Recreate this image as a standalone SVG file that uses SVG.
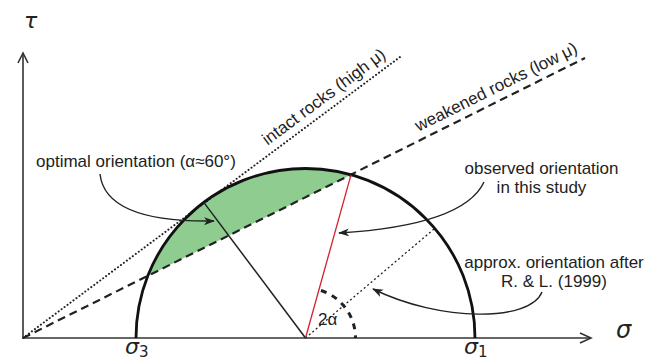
<svg xmlns="http://www.w3.org/2000/svg" width="656" height="361" viewBox="0 0 656 361">
<style>
.lbl{font-family:"Liberation Sans",Arial,sans-serif;font-size:17px;fill:#222}
.sym{font-family:"DejaVu Sans","Noto Sans",sans-serif;font-style:italic;fill:#222}
.ax{stroke:#333;stroke-width:1.6;fill:none}
.ann{stroke:#222;stroke-width:1.4;fill:none;marker-end:url(#ah)}
</style>
<defs>
<marker id="ah" markerWidth="12" markerHeight="10" refX="10" refY="4" orient="auto" markerUnits="userSpaceOnUse">
<path d="M0,0 L11,4 L0,8 L3,4 Z" fill="#222"/>
</marker>
</defs>
<rect width="656" height="361" fill="#fff"/>

<g id="axes">
<line class="ax" x1="23" y1="338" x2="591" y2="338"/>
<polyline class="ax" points="580,333 591,338 580,343"/>
<line class="ax" x1="23" y1="338" x2="23" y2="53"/>
<polyline class="ax" points="18,63 23,53 28,63"/>
<text class="sym" x="24" y="28" font-size="22">τ</text>
<text class="sym" x="616" y="338" font-size="24">σ</text>
</g>

<g id="region">
<path d="M147.8,275.9 A169.5,169.5 0 0 1 351,174.8 Z" fill="#8fcc8f"/>
</g>

<g id="envelopes">
<line x1="23" y1="338" x2="400" y2="57" stroke="#222" stroke-width="2" stroke-linecap="round" stroke-dasharray="0.1 3.6"/>
<line x1="23" y1="338" x2="585" y2="58" stroke="#222" stroke-width="2.2" stroke-dasharray="8 5"/>
<g transform="translate(23,338) rotate(-36.7)">
<text class="lbl" x="311" y="-8">intact rocks (high μ)</text>
</g>
<g transform="translate(23,338) rotate(-26.5)">
<text class="lbl" x="446" y="-8">weakened rocks (low μ)</text>
</g>
</g>

<g id="circle">
<path d="M136,338 A169.5,169.5 0 0 1 475,338" fill="none" stroke="#111" stroke-width="2.8"/>
<text class="sym" x="125" y="354" font-size="22">σ<tspan font-size="15" font-style="normal" dy="3">3</tspan></text>
<text class="sym" x="464" y="354" font-size="22">σ<tspan font-size="15" font-style="normal" dy="3">1</tspan></text>
</g>

<g id="orientations">
<line x1="305.5" y1="338" x2="203.8" y2="202.4" stroke="#222" stroke-width="1.5"/>
<line x1="305.5" y1="338" x2="351" y2="174.8" stroke="#d4202c" stroke-width="1.3"/>
<line x1="305.5" y1="338" x2="434.8" y2="228.4" stroke="#222" stroke-width="1.3" stroke-dasharray="2 2.5"/>
<path d="M320.95,290.45 A50,50 0 0 1 355.5,338" fill="none" stroke="#222" stroke-width="3" stroke-dasharray="6 6"/>
<text class="lbl" x="318" y="325">2α</text>
</g>

<g id="labels">
<text class="lbl" x="36" y="167">optimal orientation (α≈60°)</text>
<text class="lbl" x="541.5" y="174" text-anchor="middle">observed orientation</text>
<text class="lbl" x="541.5" y="193" text-anchor="middle">in this study</text>
<text class="lbl" x="554" y="268" text-anchor="middle">approx. orientation after</text>
<text class="lbl" x="554" y="287" text-anchor="middle">R. &amp; L. (1999)</text>
</g>

<g id="connectors">
<path class="ann" d="M100,174 C104,210 150,222 214,221"/>
<path class="ann" d="M484,182 C470,212 420,228 339,233"/>
<path class="ann" d="M542,292 C530,322 440,322 373,289"/>
</g>
</svg>
